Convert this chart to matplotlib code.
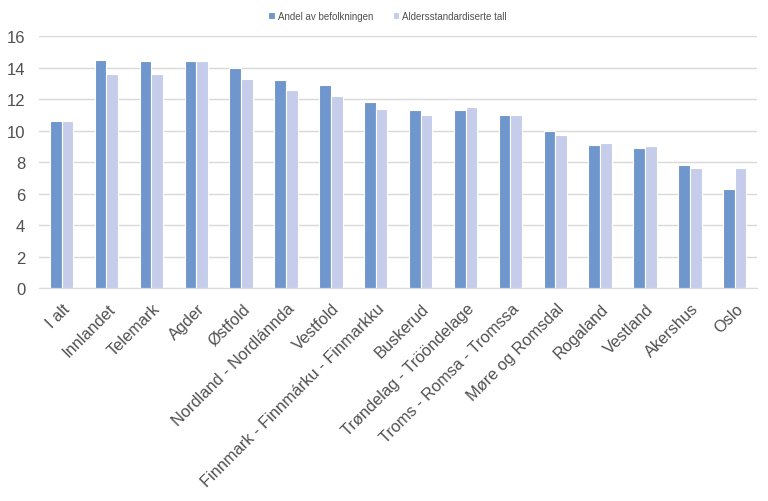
import numpy as np
import matplotlib.pyplot as plt

plt.rcParams['font.family'] = ['Liberation Sans', 'DejaVu Sans']

# regions and values (percent)
regions = ['I alt', 'Innlandet', 'Telemark', 'Agder', 'Østfold',
           'Nordland - Nordlánnda', 'Vestfold', 'Finnmark - Finnmárku - Finmarkku',
           'Buskerud', 'Trøndelag - Trööndelage', 'Troms - Romsa - Tromssa',
           'Møre og Romsdal', 'Rogaland', 'Vestland', 'Akershus', 'Oslo']
andel = [10.6, 14.5, 14.4, 14.4, 14.0, 13.2, 12.9, 11.8,
         11.3, 11.3, 11.0, 10.0, 9.1, 8.9, 7.8, 6.3]
alders = [10.6, 13.6, 13.6, 14.4, 13.3, 12.6, 12.2, 11.4,
          11.0, 11.5, 11.0, 9.7, 9.2, 9.0, 7.6, 7.6]
y_ticks = [0, 2, 4, 6, 8, 10, 12, 14, 16]

fig = plt.figure(figsize=(7.68, 5.02), dpi=100)
ax = fig.add_axes([0.051, 0.424, 0.935, 0.502])

x = np.arange(len(regions))
w = 0.26
ax.bar(x - w / 2, andel, width=w, color='#6f97cd', edgecolor='white',
       linewidth=0.8, label='Andel av befolkningen', zorder=3)
ax.bar(x + w / 2, alders, width=w, color='#c5cdea', edgecolor='white',
       linewidth=0.8, label='Aldersstandardiserte tall', zorder=3)

ax.set_ylim(0, 16)
ax.set_xlim(-0.5, len(regions) - 0.5)
ax.set_yticks(y_ticks)
ax.tick_params(axis='y', length=0, labelsize=12, labelcolor='#505050', pad=10)
ax.tick_params(axis='x', length=0, pad=9)
ax.set_xticks(x + 0.02)
ax.set_xticklabels(regions, rotation=45, ha='right', rotation_mode='anchor',
                   fontsize=11.8, color='#505050')
ax.yaxis.grid(True, color='#d9d9d9', linewidth=1, zorder=0)
for s in ['left', 'right', 'top']:
    ax.spines[s].set_visible(False)
ax.spines['bottom'].set_color('#d9d9d9')
ax.spines['bottom'].set_zorder(4)

ax.legend(loc='lower center', bbox_to_anchor=(0.485, 1.025), ncol=2, frameon=False,
          fontsize=7, handlelength=0.7, handleheight=0.7, handletextpad=0.3,
          columnspacing=2.0, labelcolor='#505050')

fig.savefig('out.png', dpi=100)
